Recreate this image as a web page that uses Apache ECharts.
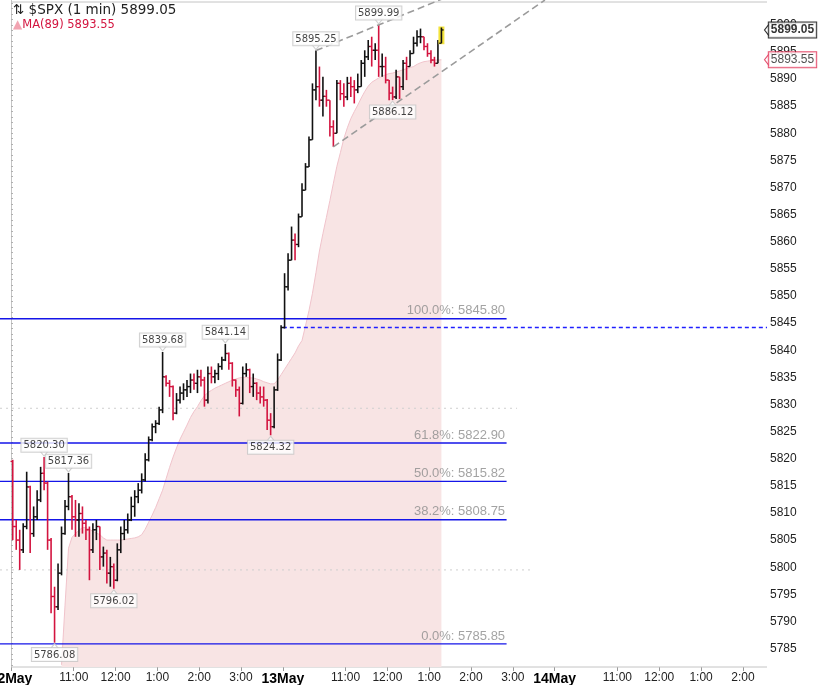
<!DOCTYPE html>
<html><head><meta charset="utf-8">
<script src="https://cdn.jsdelivr.net/npm/echarts@6/dist/echarts.min.js"></script>
<style>html,body{margin:0;padding:0;background:#fff}#c{width:840px;height:685px}</style>
</head><body><div id="c"></div>
<script>
// ---- 5-minute bars (12 May 9:30 -> 13 May ~13:18) ----
const barMinutes = 5;
const firstOpen = 5819.5;
const highs = [
5819.8,5808.7,5806.9,5808.1,5817.6,5815.0,5811.2,5814.2,5818.5,5820.3,
5815.8,5805.4,5796.4,5800.7,5807.5,5812.4,5817.36,5813.3,5812.4,5811.8,
5811.2,5808.7,5807.5,5808.1,5808.7,5807.5,5803.8,5803.2,5801.9,5800.7,
5804.4,5807.5,5808.7,5809.9,5813.0,5814.2,5815.5,5817.3,5821.0,5824.1,
5826.5,5827.1,5829.6,5839.68,5835.4,5834.5,5833.5,5832.1,5833.3,5833.9,
5834.5,5835.7,5835.7,5836.4,5836.4,5835.1,5837.0,5837.0,5836.4,5837.6,
5838.8,5841.14,5839.6,5837.8,5834.6,5833.3,5837.0,5837.6,5836.6,5835.7,
5834.1,5833.3,5833.3,5831.0,5828.4,5833.3,5839.4,5844.6,
5854.2,5857.9,5862.8,5861.5,5865.2,5870.8,5874.5,5879.4,5889.2,5895.25,
5892.3,5890.4,5888.0,5886.1,5882.4,5889.8,5889.8,5889.2,5890.4,5890.4,
5889.8,5891.0,5893.5,5895.3,5897.2,5897.8,5896.6,5899.99,5894.7,5894.1,
5889.8,5888.6,5891.7,5890.4,5893.5,5894.1,5895.3,5897.8,5899.0,5899.3,
5897.8,5896.6,5895.3,5894.1,5897.2,5899.5];
const lows = [
5805.0,5803.2,5799.5,5802.6,5807.0,5802.6,5805.6,5808.7,5812.0,5814.2,
5803.2,5791.5,5786.08,5792.1,5798.5,5806.0,5810.5,5806.9,5805.6,5805.6,
5806.2,5805.0,5797.6,5802.6,5805.0,5799.5,5800.1,5797.0,5796.4,5796.02,
5797.4,5802.6,5805.0,5806.2,5808.5,5809.3,5811.8,5813.6,5815.8,5819.5,
5823.2,5824.7,5826.2,5828.4,5833.3,5831.4,5827.1,5828.2,5830.2,5830.8,
5831.4,5832.1,5832.7,5832.1,5833.3,5829.6,5830.2,5833.9,5833.9,5834.5,
5836.4,5838.0,5836.4,5833.3,5831.4,5827.8,5830.0,5835.1,5832.1,5831.4,
5830.8,5830.2,5829.6,5825.3,5824.32,5825.6,5832.5,5838.0,
5844.0,5851.0,5856.6,5856.6,5859.0,5864.6,5869.5,5873.8,5878.8,5886.1,
5884.9,5883.1,5884.9,5879.4,5877.5,5880.0,5886.1,5884.9,5886.1,5886.7,
5885.5,5887.4,5888.6,5890.4,5893.5,5892.3,5893.5,5890.4,5890.4,5889.2,
5886.1,5886.12,5886.3,5886.3,5888.0,5889.8,5892.3,5894.7,5896.0,5896.6,
5895.3,5894.1,5892.9,5892.3,5892.9,5896.6];
const closes = [
5807.5,5805.0,5803.2,5807.5,5814.8,5806.2,5809.3,5812.4,5817.3,5815.5,
5805.0,5794.6,5792.7,5798.9,5806.2,5811.2,5813.0,5809.3,5808.7,5809.9,
5808.1,5806.9,5803.2,5806.9,5807.5,5801.9,5802.6,5798.9,5800.1,5797.6,
5803.2,5806.2,5806.9,5808.7,5811.2,5813.0,5814.2,5816.1,5819.8,5823.5,
5825.9,5826.5,5829.0,5835.1,5833.9,5833.3,5828.4,5830.8,5832.1,5832.7,
5833.3,5834.5,5833.9,5835.1,5834.5,5830.8,5835.7,5835.1,5835.7,5837.0,
5838.2,5839.4,5837.6,5834.5,5832.7,5830.2,5835.7,5836.4,5833.3,5833.9,
5832.1,5831.4,5830.8,5827.1,5825.9,5832.7,5838.2,5844.19,
5851.7,5856.6,5860.3,5859.5,5864.6,5869.5,5873.8,5878.8,5888.0,5888.6,
5886.1,5886.8,5886.1,5881.2,5880.0,5889.2,5887.3,5886.7,5889.2,5888.6,
5888.0,5888.6,5892.9,5894.1,5896.0,5895.3,5895.3,5892.3,5892.3,5889.8,
5887.4,5886.7,5890.4,5888.6,5892.9,5892.3,5894.7,5896.6,5897.8,5897.8,
5896.0,5894.7,5893.5,5892.9,5896.6,5899.05];

// ---- MA(89) read from the pink area edge, one value per bar from bar maStart ----
const maStart = 14;
const ma89 = [
5782.0,5793.0,5803.5,5805.5,5806.2,5806.8,5807.3,5807.3,5807.0,5806.6,
5806.3,5806.0,5805.4,5805.0,5805.0,5805.0,5805.0,5805.0,5805.1,5805.2,
5805.3,5805.4,5805.6,5806.0,5807.0,5808.3,5809.6,5811.0,5812.6,5814.2,
5816.3,5818.4,5820.3,5822.0,5823.6,5824.9,5826.2,5827.6,5828.7,5829.6,
5830.7,5831.6,5832.2,5832.6,5833.0,5833.3,5833.6,5833.9,5834.2,5834.5,
5834.7,5834.9,5835.0,5835.0,5834.9,5834.9,5834.7,5834.5,5834.2,5834.0,
5833.8,5833.8,5834.5,5835.5,
5836.5,5837.5,5838.5,5839.5,5840.8,5841.8,5844.5,5847.3,5850.5,5854.3,
5858.3,5861.5,5864.5,5867.6,5870.8,5873.9,5876.4,5879.0,5881.0,5882.7,
5884.0,5885.2,5886.5,5887.7,5888.7,5889.4,5889.8,5890.2,5890.5,5890.8,
5891.0,5891.1,5891.3,5891.5,5891.7,5891.9,5892.1,5892.3,5892.7,5893.0,
5893.2,5893.3,5893.4,5893.5,5893.5,5893.55];

// ---- annotations ----
const swingBars   = [9, 12, 16, 29, 43, 61, 74, 87, 105, 109];
const swingValues = [5820.30, 5786.08, 5817.36, 5796.02, 5839.68, 5841.14, 5824.32, 5895.25, 5899.99, 5886.12];
const swingKinds  = ['high','low','high','low','high','high','low','high','high','low'];
const fibNames  = ['100.0%', '61.8%', '50.0%', '38.2%', '0.0%'];
const fibLevels = [5845.80, 5822.90, 5815.82, 5808.75, 5785.85];
const fibEnd = 711;                          // minutes from 12 May 9:30
const prevClose = 5844.19;
const prevCloseFrom = 390;
const pivotLevels = [5829.3, 5799.5];
const pivotEnds = [726, 745];
const upperTrend = [[437.5, 5895.25], [625, 5905.1]];
const lowerTrend = [[462.4, 5877.5], [766, 5904.56]];
const lastPrice = 5899.05;
const lastMA = 5893.55;

// ---- axes ----
const xMin = -15.78, xMax = 1084.6;          // visible window (minutes)
const xTickMinutes = [0, 90, 150, 210, 270, 330, 390, 480, 540, 600, 660, 720, 780, 870, 930, 990, 1050];
const xTickLabels = ['12May','11:00','12:00','1:00','2:00','3:00','13May','11:00','12:00','1:00','2:00','3:00','14May','11:00','12:00','1:00','2:00'];
const yTickLabels = [5785,5790,5795,5800,5805,5810,5815,5820,5825,5830,5835,5840,5845,5850,5855,5860,5865,5870,5875,5880,5885,5890,5895,5900];
const yMin = 5781.6, yMax = 5904.57, yFrameTop = 5904.2;
const yMinor = [];
for (let v = 5782; v <= 5904; v++) yMinor.push(v);

const ohlc = closes.map((c, i) => [i * barMinutes + barMinutes / 2, i === 0 ? firstOpen : closes[i - 1], highs[i], lows[i], c]);
const maData = ma89.map((v, i) => [(maStart + i) * barMinutes + barMinutes / 2, v]);
const lastIdx = closes.length - 1;

const chart = echarts.init(document.getElementById('c'), null, {renderer: 'canvas'});
const RED = '#d3143f';
const BLUE = '#1515e8';
const FRAME = '#c4c4c4';

const series = [];
// plot frame (top, bottom)
[[[0, yFrameTop], [xMax, yFrameTop]], [[0, yMin], [xMax, yMin]]].forEach(seg => series.push({
  type: 'line', data: seg, symbol: 'none', clip: false, z: 0, silent: true,
  lineStyle: {color: FRAME, width: 1, type: 'solid'}
}));
series.push({
  type: 'line', name: 'MA', data: maData, symbol: 'none', z: 1,
  lineStyle: {color: '#f0c3cb', width: 1},
  areaStyle: {color: '#f8e4e4', opacity: 1, origin: 'start'}
});
pivotLevels.forEach((v, i) => series.push({
  type: 'line', data: [[xMin, v], [pivotEnds[i], v]], symbol: 'none', z: 2, silent: true,
  lineStyle: {color: '#cfcfcf', width: 1, type: [2, 4]}
}));
fibLevels.forEach(v => series.push({
  type: 'line', data: [[xMin, v], [fibEnd, v]], symbol: 'none', z: 3, silent: true,
  lineStyle: {color: BLUE, width: 1.3}
}));
series.push({
  type: 'scatter', z: 3, silent: true, symbolSize: 1, itemStyle: {color: 'rgba(0,0,0,0)'},
  data: fibLevels.map((v, i) => ({value: [fibEnd, v], name: fibNames[i]})),
  label: {show: true, position: 'left', distance: 1, offset: [0, -8],
    formatter: p => p.name + ': ' + p.value[1].toFixed(2),
    fontFamily: 'Liberation Sans', fontSize: 13, color: '#8c8c8c'}
});
series.push({
  type: 'line', data: [[prevCloseFrom, prevClose], [xMax, prevClose]], symbol: 'none', z: 3, silent: true,
  lineStyle: {color: '#1f1fff', width: 1.5, type: [4, 3]}
});
series.push({
  type: 'custom', z: 4, data: ohlc, encode: {x: 0, y: [1, 2, 3, 4]},
  renderItem: (params, api) => {
    const x = api.value(0), o = api.value(1), h = api.value(2), l = api.value(3), c = api.value(4);
    const pH = api.coord([x, h]), pL = api.coord([x, l]), pO = api.coord([x, o]), pC = api.coord([x, c]);
    const col = c >= o ? '#111' : RED;
    const tw = 2.2;
    const kids = [];
    if (params.dataIndex === lastIdx) {
      kids.push({type: 'rect', shape: {x: pH[0] - 3, y: pH[1] - 1, width: 6, height: pL[1] - pH[1] + 2}, style: {fill: '#f3e33c'}});
    }
    kids.push({type: 'line', shape: {x1: pH[0], y1: pH[1], x2: pL[0], y2: pL[1]}, style: {stroke: col, lineWidth: 1.6}});
    kids.push({type: 'line', shape: {x1: pO[0] - tw, y1: pO[1], x2: pO[0], y2: pO[1]}, style: {stroke: col, lineWidth: 1.3}});
    kids.push({type: 'line', shape: {x1: pC[0], y1: pC[1], x2: pC[0] + tw, y2: pC[1]}, style: {stroke: col, lineWidth: 1.3}});
    return {type: 'group', children: kids};
  }
});
[upperTrend, lowerTrend].forEach(t => series.push({
  type: 'line', data: t, symbol: 'none', clip: false, z: 5, silent: true,
  lineStyle: {color: '#9b9b9b', width: 1.6, type: [7, 4]}
}));
series.push({
  type: 'scatter', z: 6, clip: false, silent: true, symbolSize: [8, 5],
  itemStyle: {color: '#fff', borderColor: '#c6c6c6', borderWidth: 1},
  data: swingBars.map((b, i) => {
    const hi = swingKinds[i] === 'high';
    return {value: [b * barMinutes + barMinutes / 2, swingValues[i]],
      symbol: hi ? 'path://M0,0 L10,0 L5,6 Z' : 'path://M5,0 L10,6 L0,6 Z',
      symbolOffset: [0, hi ? -3.5 : 3.5],
      label: {position: hi ? 'top' : 'bottom'}};
  }),
  label: {show: true, distance: -1, formatter: p => p.value[1].toFixed(2),
    fontFamily: 'DejaVu Sans', fontSize: 10, color: '#111',
    backgroundColor: '#fff', borderColor: '#c6c6c6', borderWidth: 1, padding: [2, 2, 1, 2]}
});
series.push({
  type: 'scatter', z: 8, clip: false, silent: true,
  symbol: 'path://M0,6 L6,0 L6,12 Z', symbolSize: [5, 13], symbolOffset: [0, 0],
  data: [
    {value: [xMax, lastPrice], itemStyle: {color: '#fff', borderColor: '#000', borderWidth: 1},
     label: {fontWeight: 'bold', borderColor: '#000', color: '#000'}},
    {value: [xMax, lastMA], itemStyle: {color: '#fff', borderColor: '#e0284e', borderWidth: 1},
     label: {borderColor: '#e0284e', color: '#222'}}
  ],
  label: {show: true, position: 'right', distance: -1, formatter: p => p.value[1].toFixed(2),
    fontFamily: 'Liberation Sans', fontSize: 12, backgroundColor: '#fff', borderWidth: 1, padding: [2, 2, 1, 2]}
});

chart.setOption({
  animation: false,
  grid: {left: 0, right: 73, top: 0, bottom: 18, containLabel: false, outerBoundsMode: 'none', show: false},
  xAxis: {
    type: 'value', min: xMin, max: xMax, splitLine: {show: false},
    axisLine: {show: false},
    axisTick: {show: true, customValues: xTickMinutes, length: 4, lineStyle: {color: '#9a9a9a'}},
    axisLabel: {
      customValues: xTickMinutes, margin: 5, fontFamily: 'Liberation Sans', fontSize: 12, color: '#222',
      formatter: v => { const i = xTickMinutes.indexOf(v); if (i < 0) return ''; const t = xTickLabels[i]; return /May/.test(t) ? '{d|' + t + '}' : t; },
      rich: {d: {fontFamily: 'Liberation Sans', fontWeight: 'bold', fontSize: 14, color: '#000'}}
    }
  },
  yAxis: [{
    type: 'value', position: 'right', min: yMin, max: yMax, splitLine: {show: false},
    axisLine: {show: true, lineStyle: {color: '#bdbdbd'}},
    axisTick: {show: true, customValues: yMinor, length: 2, lineStyle: {color: '#b0b0b0'}},
    axisLabel: {customValues: yTickLabels, margin: 3, fontFamily: 'Liberation Sans', fontSize: 12, color: '#222',
      formatter: v => String(v)}
  }, {
    type: 'value', position: 'left', offset: -11, min: yMin, max: yMax, splitLine: {show: false},
    axisLine: {show: true, onZero: false, lineStyle: {color: FRAME, width: 1}},
    axisTick: {show: false}, axisLabel: {show: false}
  }],
  graphic: [
    {type: 'text', left: 13, top: 3, z: 10, style: {text: '⇅ $SPX (1 min) ' + lastPrice.toFixed(2), font: '13.5px "DejaVu Sans"', fill: '#222'}},
    {type: 'text', left: 13, top: 19, z: 10, style: {
      text: '{i|▲}{t|MA(89) ' + lastMA.toFixed(2) + '}',
      rich: {i: {fontSize: 12, fill: '#f2a4b2', fontFamily: 'DejaVu Sans'}, t: {fontSize: 11.5, fill: '#d3143f', fontFamily: 'DejaVu Sans'}}
    }}
  ],
  series: series
});
</script></body></html>
